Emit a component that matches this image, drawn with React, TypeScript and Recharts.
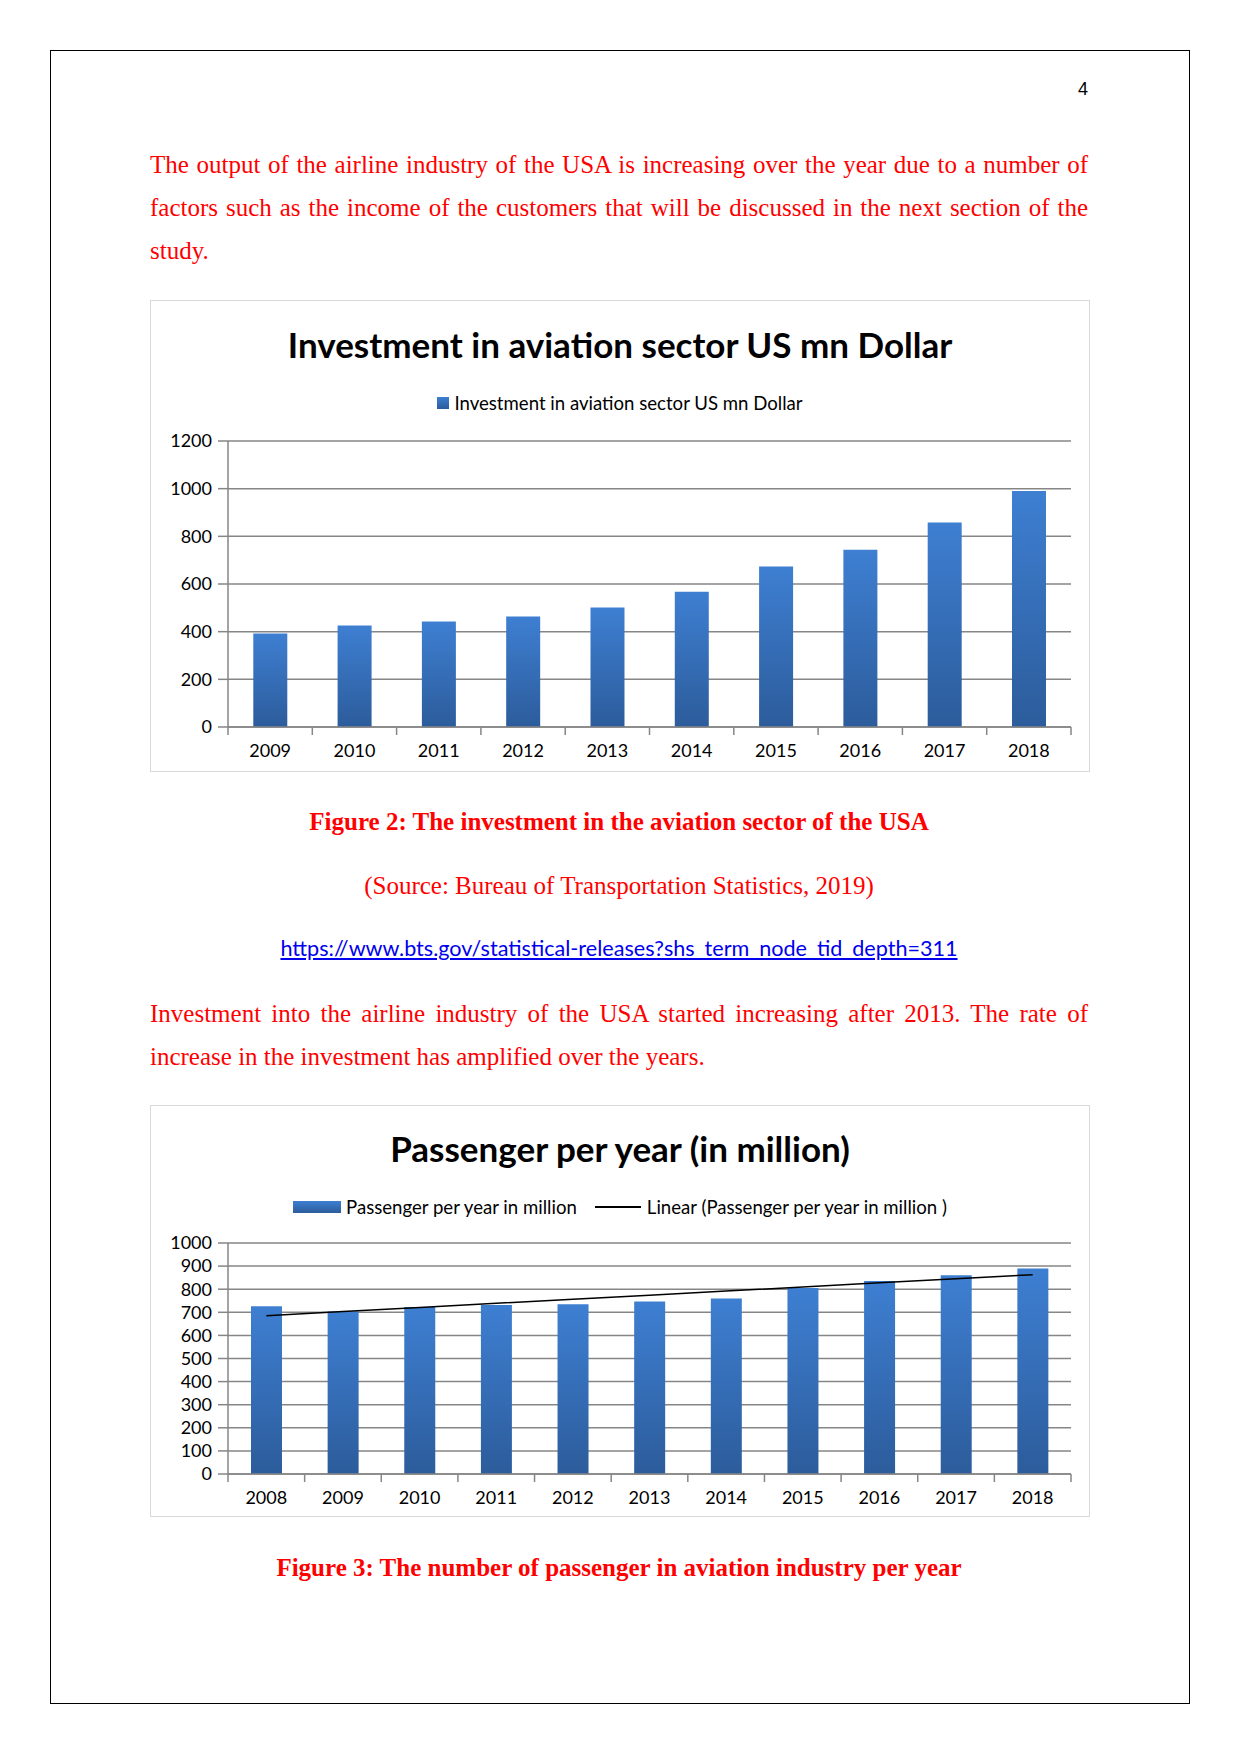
import React from "react";
import { BarChart, ComposedChart, Bar, Line, XAxis, YAxis, CartesianGrid } from "recharts";

const investYears = ["2009", "2010", "2011", "2012", "2013", "2014", "2015", "2016", "2017", "2018"];
const investValues = [392, 426, 443, 464, 501, 568, 673, 744, 858, 990];
const investTicks = [0, 200, 400, 600, 800, 1000, 1200];

const paxYears = ["2008", "2009", "2010", "2011", "2012", "2013", "2014", "2015", "2016", "2017", "2018"];
const paxValues = [726, 704, 723, 732, 735, 747, 760, 805, 835, 860, 890];
const paxTicks = [0, 100, 200, 300, 400, 500, 600, 700, 800, 900, 1000];

// least squares line, like Excel's "Linear" trendline
function linearFit(values: number[]) {
  const n = values.length;
  const mx = (n - 1) / 2;
  const my = values.reduce((a, b) => a + b, 0) / n;
  let sxy = 0;
  let sxx = 0;
  values.forEach((v, i) => {
    sxy += (i - mx) * (v - my);
    sxx += (i - mx) * (i - mx);
  });
  const slope = sxy / sxx;
  return values.map((_, i) => my + slope * (i - mx));
}

const investData = investYears.map((year, i) => ({ year, value: investValues[i] }));
const paxTrend = linearFit(paxValues);
const paxData = paxYears.map((year, i) => ({ year, value: paxValues[i], trend: paxTrend[i] }));

const RED = "#ff0000";
const AXIS = "#868686";
const SERIF = "'Liberation Serif', 'Times New Roman', serif";
const SANS = "Lato, 'Open Sans', sans-serif";
const CHART_W = 938;
const PLOT_LEFT = 77;
const PLOT_RIGHT = 18;
const PLOT_W = CHART_W - PLOT_LEFT - PLOT_RIGHT;

function makeXTick(count: number) {
  const band = PLOT_W / count;
  return (props: any) => {
    const { x, y, payload, index } = props;
    return (
      <g>
        <line x1={x - band / 2} x2={x - band / 2} y1={y} y2={y + 8} stroke={AXIS} strokeWidth={1.5} />
        {index === count - 1 && (
          <line x1={x + band / 2} x2={x + band / 2} y1={y} y2={y + 8} stroke={AXIS} strokeWidth={1.5} />
        )}
        <text x={x} y={y + 23} textAnchor="middle" dominantBaseline="central" fontSize={18} fontFamily={SANS} fill="#000">
          {payload.value}
        </text>
      </g>
    );
  };
}

function Gradient({ id }: { id: string }) {
  return (
    <defs>
      <linearGradient id={id} x1="0" y1="0" x2="0" y2="1">
        <stop offset="0%" stopColor="#3e7fd2" />
        <stop offset="100%" stopColor="#2c5c9b" />
      </linearGradient>
    </defs>
  );
}

const swatch = "linear-gradient(#3e7fd2, #2c5c9b)";

function Line1({ top, children, last }: { top: number; children: React.ReactNode; last?: boolean }) {
  return (
    <div
      style={{
        position: "absolute",
        left: 150,
        width: 938,
        top,
        height: 43,
        lineHeight: "43px",
        fontFamily: SERIF,
        fontSize: 25,
        color: RED,
        textAlign: "justify",
        textAlignLast: last ? "left" : "justify",
        whiteSpace: "nowrap",
      }}
    >
      {children}
    </div>
  );
}

function Centered({ top, children, style }: { top: number; children: React.ReactNode; style?: React.CSSProperties }) {
  return (
    <div
      style={{
        position: "absolute",
        left: 150,
        width: 938,
        top,
        height: 43,
        lineHeight: "43px",
        textAlign: "center",
        whiteSpace: "nowrap",
        fontFamily: SERIF,
        fontSize: 25,
        color: RED,
        ...style,
      }}
    >
      {children}
    </div>
  );
}

const boxStyle: React.CSSProperties = {
  position: "absolute",
  left: 150,
  width: CHART_W,
  border: "1px solid #d9d9d9",
  background: "#fff",
};

const titleStyle: React.CSSProperties = {
  position: "absolute",
  left: 0,
  width: CHART_W,
  textAlign: "center",
  fontFamily: SANS,
  fontWeight: 700,
  fontSize: 35,
  lineHeight: "44px",
  color: "#000",
  whiteSpace: "nowrap",
};

const legendStyle: React.CSSProperties = {
  position: "absolute",
  left: 0,
  width: CHART_W,
  display: "flex",
  justifyContent: "center",
  alignItems: "center",
  fontFamily: SANS,
  fontSize: 18.6,
  lineHeight: "24px",
  color: "#000",
  whiteSpace: "nowrap",
};

function InvestmentChart() {
  return (
    <div style={{ ...boxStyle, top: 300, height: 470 }}>
      <div style={{ ...titleStyle, top: 21 }}>Investment in aviation sector US mn Dollar</div>
      <div style={{ ...legendStyle, top: 90 }}>
        <span style={{ display: "inline-block", width: 12, height: 12, background: swatch, marginRight: 5 }} />
        Investment in aviation sector US mn Dollar
      </div>
      <div style={{ position: "absolute", left: 0, top: 0 }}>
        <BarChart
          width={CHART_W}
          height={470}
          data={investData}
          margin={{ top: 140, right: PLOT_RIGHT, bottom: 0, left: 0 }}
          barCategoryGap="30%"
        >
          <Gradient id="investGrad" />
          <CartesianGrid horizontal vertical={false} stroke={AXIS} strokeWidth={1.5} />
          <XAxis
            dataKey="year"
            height={44}
            interval={0}
            tickLine={false}
            tickSize={0}
            tickMargin={0}
            axisLine={{ stroke: AXIS, strokeWidth: 1.5 }}
            tick={makeXTick(investYears.length)}
          />
          <YAxis
            width={PLOT_LEFT}
            domain={[0, 1200]}
            ticks={investTicks}
            interval={0}
            tickSize={10}
            tickMargin={6}
            tickLine={{ stroke: AXIS, strokeWidth: 1.5 }}
            axisLine={{ stroke: AXIS, strokeWidth: 1.5 }}
            tick={{ fill: "#000", fontSize: 18, fontFamily: SANS }}
          />
          <Bar dataKey="value" fill="url(#investGrad)" isAnimationActive={false} />
        </BarChart>
      </div>
    </div>
  );
}

function PassengerChart() {
  return (
    <div style={{ ...boxStyle, top: 1105, height: 410 }}>
      <div style={{ ...titleStyle, top: 20 }}>Passenger per year (in million)</div>
      <div style={{ ...legendStyle, top: 89 }}>
        <span style={{ display: "inline-block", width: 48, height: 12, background: swatch, marginRight: 5 }} />
        Passenger per year in million
        <span style={{ display: "inline-block", width: 46, height: 1.5, background: "#000", marginLeft: 18, marginRight: 6 }} />
        Linear (Passenger per year in million )
      </div>
      <div style={{ position: "absolute", left: 0, top: 0 }}>
        <ComposedChart
          width={CHART_W}
          height={410}
          data={paxData}
          margin={{ top: 137, right: PLOT_RIGHT, bottom: 0, left: 0 }}
          barCategoryGap="30%"
        >
          <Gradient id="paxGrad" />
          <CartesianGrid horizontal vertical={false} stroke={AXIS} strokeWidth={1.5} />
          <XAxis
            dataKey="year"
            height={42}
            interval={0}
            tickLine={false}
            tickSize={0}
            tickMargin={0}
            axisLine={{ stroke: AXIS, strokeWidth: 1.5 }}
            tick={makeXTick(paxYears.length)}
          />
          <YAxis
            width={PLOT_LEFT}
            domain={[0, 1000]}
            ticks={paxTicks}
            interval={0}
            tickSize={10}
            tickMargin={6}
            tickLine={{ stroke: AXIS, strokeWidth: 1.5 }}
            axisLine={{ stroke: AXIS, strokeWidth: 1.5 }}
            tick={{ fill: "#000", fontSize: 18, fontFamily: SANS }}
          />
          <Bar dataKey="value" fill="url(#paxGrad)" isAnimationActive={false} />
          <Line
            dataKey="trend"
            type="linear"
            stroke="#000"
            strokeWidth={1.5}
            dot={false}
            activeDot={false}
            isAnimationActive={false}
          />
        </ComposedChart>
      </div>
    </div>
  );
}

export default function App() {
  return (
    <div style={{ position: "absolute", left: 0, top: 0, width: 1241, height: 1754, background: "#fff", overflow: "hidden" }}>
      <div style={{ position: "absolute", left: 50, top: 50, width: 1138, height: 1652, border: "1.5px solid #000" }} />
      <div
        style={{
          position: "absolute",
          left: 1070,
          width: 26,
          top: 77,
          textAlign: "center",
          fontFamily: "'Liberation Sans', Arial, sans-serif",
          fontSize: 18,
          lineHeight: "24px",
        }}
      >
        4
      </div>

      <Line1 top={143}>The output of the airline industry of the USA is increasing over the year due to a number of</Line1>
      <Line1 top={186}>factors such as the income of the customers that will be discussed in the next section of the</Line1>
      <Line1 top={229} last>
        study.
      </Line1>

      <InvestmentChart />

      <Centered top={800} style={{ fontWeight: 700 }}>
        Figure 2: The investment in the aviation sector of the USA
      </Centered>
      <Centered top={864}>(Source: Bureau of Transportation Statistics, 2019)</Centered>
      <Centered top={927} style={{ fontFamily: SANS, fontSize: 21.6, color: "#0000ee" }}>
        <span style={{ textDecoration: "underline" }}>https://www.bts.gov/statistical-releases?shs_term_node_tid_depth=311</span>
      </Centered>

      <Line1 top={992}>Investment into the airline industry of the USA started increasing after 2013. The rate of</Line1>
      <Line1 top={1035} last>
        increase in the investment has amplified over the years.
      </Line1>

      <PassengerChart />

      <Centered top={1546} style={{ fontWeight: 700 }}>
        Figure 3: The number of passenger in aviation industry per year
      </Centered>
    </div>
  );
}
